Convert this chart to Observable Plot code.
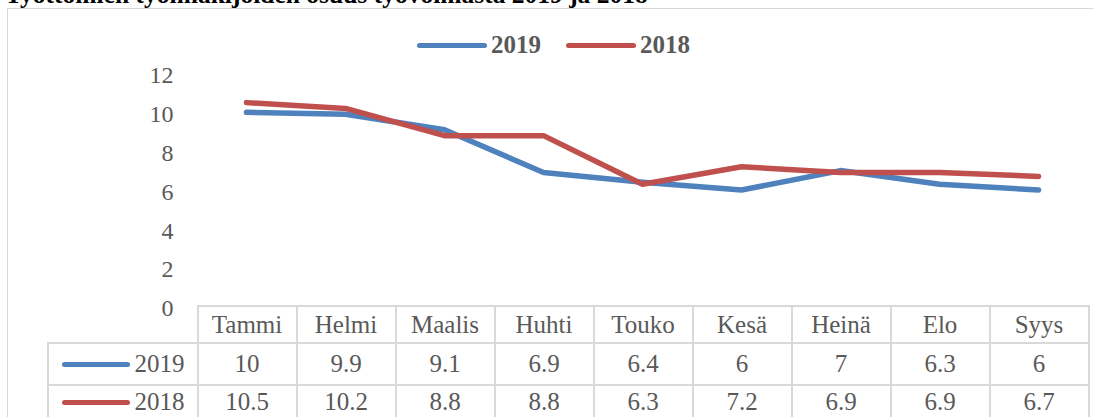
<!DOCTYPE html>
<html>
<head>
<meta charset="utf-8">
<script src="https://cdn.jsdelivr.net/npm/d3@7"></script>
<script src="https://cdn.jsdelivr.net/npm/@observablehq/plot@0.6"></script>
<style>
  html, body { margin: 0; padding: 0; background: #fff; }
  #wrap { position: relative; width: 1093px; height: 417px; overflow: hidden; font-family: "Liberation Serif", "Times New Roman", serif; }
  #box { position: absolute; left: 7px; top: 8px; width: 1200px; height: 600px; border: 1px solid #d9d9d9; box-sizing: border-box; }
  #title { position: absolute; left: 5px; top: -17px; font-size: 25.5px; line-height: 24px; font-weight: bold; color: #000; white-space: nowrap; font-family: "Liberation Serif", serif; }
  #legend { position: absolute; left: 417px; top: 30px; height: 30px; display: flex; align-items: center; font-size: 25px; font-weight: bold; color: #595959; font-family: "Liberation Serif", serif; }
  #legend .item { display: flex; align-items: center; margin-right: 25px; }
  #legend .key { display: inline-block; width: 70px; height: 5px; border-radius: 3px; margin-right: 4px; }
  #chart { position: absolute; left: 0; top: 0; }
  #table { position: absolute; left: 47px; top: 305px; border-collapse: collapse; table-layout: fixed; font-size: 25px; color: #595959; font-family: "Liberation Serif", serif; }
  #table td { border: 2px solid #d9d9d9; padding: 0; text-align: center; white-space: nowrap; font-family: "Liberation Serif", serif; vertical-align: middle; }
  #table td.blank { border-top: none; border-left: none; }
  #table td.lab { text-align: right; padding-right: 12px; }
  #table .key { display: inline-block; width: 68px; height: 5px; border-radius: 3px; margin-right: 5px; vertical-align: middle; position: relative; top: -2px; }
</style>
</head>
<body>
<div id="wrap">
  <div id="box"></div>
  <div id="title"></div>
  <div id="legend"></div>
  <div id="chart"></div>
  <table id="table"></table>
</div>
<script>
const titleText = "Työttömien työnhakijoiden osuus työvoimasta 2019 ja 2018";
const months = ["Tammi", "Helmi", "Maalis", "Huhti", "Touko", "Kesä", "Heinä", "Elo", "Syys"];
const values2019 = [10, 9.9, 9.1, 6.9, 6.4, 6, 7, 6.3, 6];
const values2018 = [10.5, 10.2, 8.8, 8.8, 6.3, 7.2, 6.9, 6.9, 6.7];
const seriesNames = ["2019", "2018"];
const seriesColors = ["#4F81BD", "#C0504D"];
const yTicks = [0, 2, 4, 6, 8, 10, 12];

const seriesValues = [values2019, values2018];
const data = seriesNames.flatMap((s, si) => months.map((m, i) => ({series: s, month: m, value: seriesValues[si][i]})));

document.getElementById("title").textContent = titleText;

const legend = d3.select("#legend");
seriesNames.forEach((s, i) => {
  const it = legend.append("div").attr("class", "item");
  it.append("span").attr("class", "key").style("background", seriesColors[i]);
  it.append("span").text(s);
});

const chart = Plot.plot({
  width: 1093,
  height: 307,
  marginLeft: 195,
  marginRight: 5,
  marginTop: 73,
  marginBottom: 1,
  style: {fontFamily: "Liberation Serif, serif", fontSize: "24px", color: "#595959", background: "transparent", overflow: "visible"},
  x: {type: "point", domain: months, padding: 0.5, axis: null},
  y: {domain: [0, 12]},
  color: {domain: seriesNames, range: seriesColors},
  marks: [
    Plot.axisY({ticks: yTicks, tickSize: 0, tickPadding: 22, label: null, tickFormat: d => String(d), dy: 2, fill: "#595959", fontFamily: "Liberation Serif, serif"}),
    Plot.line(data, {x: "month", y: "value", z: "series", stroke: "series", strokeWidth: 5.5, strokeLinecap: "round", strokeLinejoin: "round"})
  ]
});
document.getElementById("chart").appendChild(chart);

// table aligned to the Plot x scale
const xs = chart.scale("x");
const step = xs.apply(months[1]) - xs.apply(months[0]);
const firstLeft = xs.apply(months[0]) - step / 2;
const labelWidth = firstLeft - 47;
const table = d3.select("#table");
const cg = table.append("colgroup");
cg.append("col").style("width", labelWidth + "px");
months.forEach(() => cg.append("col").style("width", step + "px"));
table.style("width", (labelWidth + step * months.length) + "px");

const rowHeights = ["37px", "42px", "34px"];
const head = table.append("tr").style("height", rowHeights[0]);
head.append("td").attr("class", "blank");
months.forEach(m => head.append("td").text(m));
seriesNames.forEach((s, si) => {
  const tr = table.append("tr").style("height", rowHeights[si + 1]);
  const lab = tr.append("td").attr("class", "lab");
  lab.append("span").attr("class", "key").style("background", seriesColors[si]);
  lab.append("span").text(s);
  seriesValues[si].forEach(v => tr.append("td").text(String(v)));
});
</script>
</body>
</html>
